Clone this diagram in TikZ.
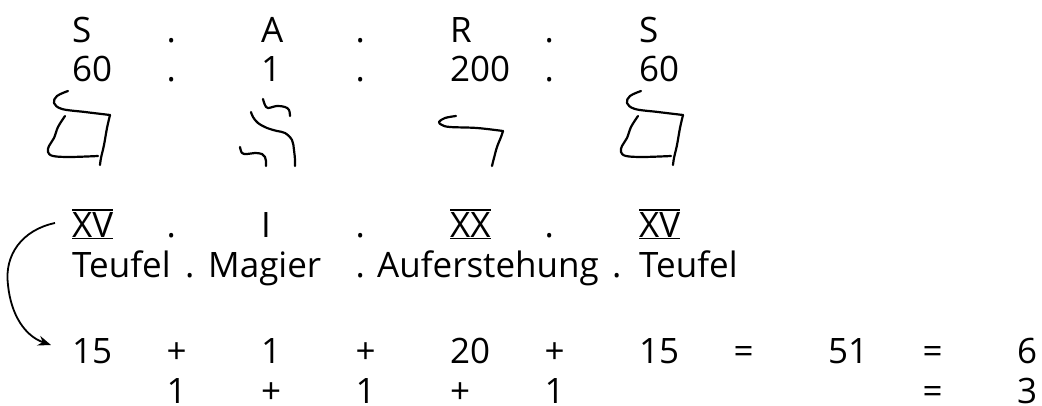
\documentclass[tikz,border=0pt]{standalone}
\usepackage{fontspec}
\setmainfont{Open Sans}
\usetikzlibrary{arrows.meta}
\begin{document}
\begin{tikzpicture}[x=1pt,y=-1pt,
  txt/.style={anchor=base west,inner sep=0pt,font=\fontsize{35}{42}\selectfont},
  hand/.style={line width=2.2pt,line cap=round,line join=round},
  bar/.style={line width=1.8pt},
  arr/.style={line width=1.8pt,-{Stealth[length=13pt,width=10pt]}}]
\useasboundingbox (0,0) rectangle (1042,406);
% row 1
\node[txt] (r1a) at (72,43) {S};
\node[txt] (r1b) at (166.5,43) {.};
\node[txt] (r1c) at (261,43) {A};
\node[txt] (r1d) at (355.5,43) {.};
\node[txt] (r1e) at (450,43) {R};
\node[txt] (r1f) at (544.5,43) {.};
\node[txt] (r1g) at (639,43) {S};
% row 2
\node[txt] (r2a) at (72,82) {60};
\node[txt] (r2b) at (166.5,82) {.};
\node[txt] (r2c) at (261,82) {1};
\node[txt] (r2d) at (355.5,82) {.};
\node[txt] (r2e) at (450,82) {200};
\node[txt] (r2f) at (544.5,82) {.};
\node[txt] (r2g) at (639,82) {60};
% hand drawn letters: samekh, aleph, resh, samekh
\foreach \dx in {0,573}{
  \begin{scope}[xshift=\dx]
  \draw[hand] plot[smooth,tension=0.6] coordinates {(68,91) (57,96) (54,103) (62,109) (85,112) (110,115)};
  \draw[hand] plot[smooth,tension=0.6] coordinates {(110,115) (107,128) (104,145) (101,158) (100,165)};
  \draw[hand] plot[smooth,tension=0.6] coordinates {(65,116) (58,127) (54,138) (49,146) (48,152) (53,156) (70,157) (98,156)};
  \end{scope}}
\draw[hand] plot[smooth,tension=0.6] coordinates {(263,99) (265,105) (268,108) (277,106) (285,107) (289,110) (290,116)};
\draw[hand] plot[smooth,tension=0.6] coordinates {(251,112) (253,117) (258,123) (267,128) (277,131) (285,133) (292,140) (294,150) (295,160) (295,166)};
\draw[hand] plot[smooth,tension=0.6] coordinates {(240,147) (242,153) (247,154) (255,153) (262,154) (265,157) (266,161) (266,166)};
\draw[hand] plot[smooth,tension=0.6] coordinates {(456,116) (445,118) (439,122) (442,125) (450,127) (477,128) (503,131)};
\draw[hand] plot[smooth,tension=0.6] coordinates {(503,131) (501,137) (497,147) (494,158) (492,166)};
% roman row
\node[txt] (r3a) at (72,238) {XV};
\node[txt] (r3b) at (166.5,238) {.};
\node[txt] (r3c) at (261,238) {I};
\node[txt] (r3d) at (355.5,238) {.};
\node[txt] (r3e) at (450,238) {XX};
\node[txt] (r3f) at (544.5,238) {.};
\node[txt] (r3g) at (639,238) {XV};
\foreach \n in {r3a,r3e,r3g}{
  \draw[bar] ([yshift=2.5pt]\n.north west) -- ([yshift=2.5pt]\n.north east);
  \draw[bar] ([yshift=-0.5pt]\n.base west) -- ([yshift=-0.5pt]\n.base east);
}
% names row
\node[txt] (r4a) at (72,277) {Teufel};
\node[txt] (r4b) at (185,277) {.};
\node[txt] (r4c) at (208,277) {Magier};
\node[txt] (r4d) at (355.5,277) {. Auferstehung};
\node[txt] (r4e) at (612,277) {.};
\node[txt] (r4f) at (639,277) {Teufel};
% sum row
\node[txt] (r5a) at (72,363) {15};
\node[txt] (r5b) at (166.5,363) {+};
\node[txt] (r5c) at (261,363) {1};
\node[txt] (r5d) at (355.5,363) {+};
\node[txt] (r5e) at (450,363) {20};
\node[txt] (r5f) at (544.5,363) {+};
\node[txt] (r5g) at (639,363) {15};
\node[txt] (r5h) at (733.5,363) {=};
\node[txt] (r5i) at (828,363) {51};
\node[txt] (r5j) at (922.5,363) {=};
\node[txt] (r5k) at (1017,363) {6};
% last row
\node[txt] (r6a) at (166.5,403) {1};
\node[txt] (r6b) at (261,403) {+};
\node[txt] (r6c) at (355.5,403) {1};
\node[txt] (r6d) at (450,403) {+};
\node[txt] (r6e) at (544.5,403) {1};
\node[txt] (r6f) at (922.5,403) {=};
\node[txt] (r6g) at (1017,403) {3};
% arrow
\coordinate (arrS) at (55,223);
\coordinate (arrE) at (51,345);
\draw[arr] (arrS) .. controls (22,230) and (4,255) .. (8,285)
  .. controls (11,315) and (25,336) .. (arrE);
\end{tikzpicture}
\end{document}
